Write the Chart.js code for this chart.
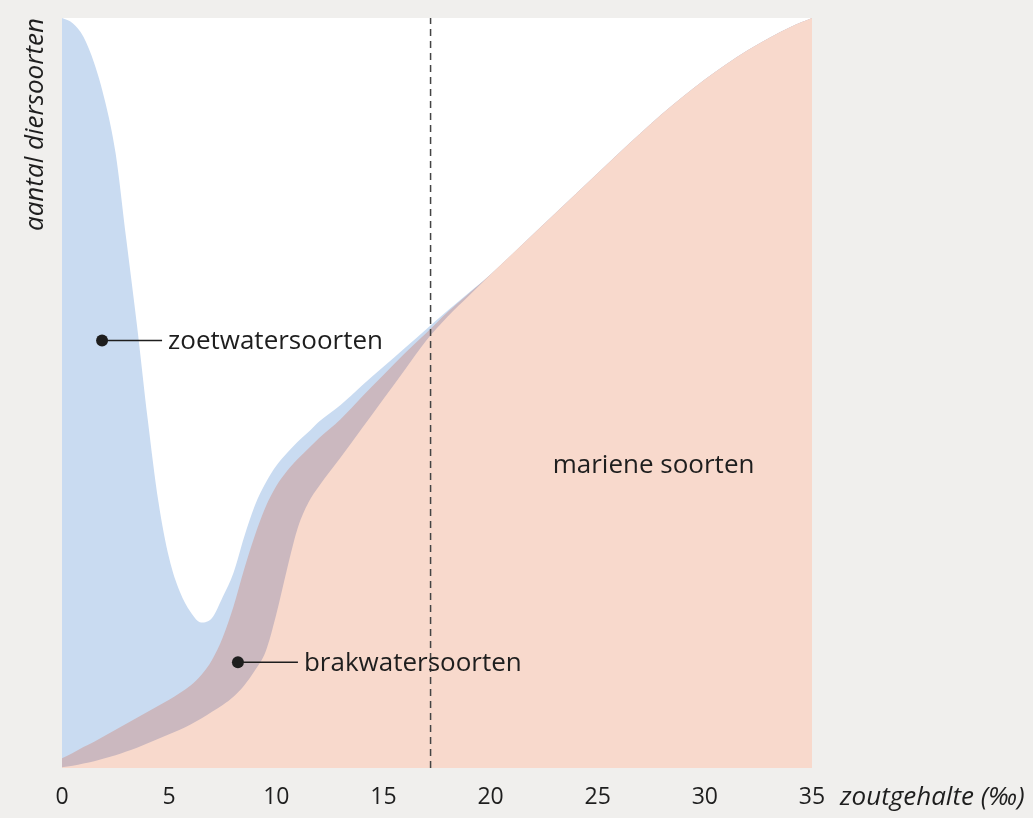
<!DOCTYPE html>
<html>
<head>
<meta charset="utf-8">
<script src="https://cdn.jsdelivr.net/npm/chart.js@4/dist/chart.umd.min.js"></script>
<style>
  html, body { margin:0; padding:0; background:#f0efed; }
  canvas { display:block; }
</style>
</head>
<body>
<canvas id="chart" width="1033" height="818"></canvas>
<script>
// zoutgehalte (promille) en aantal diersoorten (relatief, 0-100)
const salinity = [0,0.5,1,1.5,2,2.5,3,3.5,4,4.5,5,5.5,6,6.5,7,7.5,8,8.5,9,9.5,10,10.5,11,11.5,12,13,14,15,16,17,18,19,20,22,24,26,28,30,32,34,35];

const freshwater = [100,99.3,97.5,94,89,82,70.5,59,46.5,35.5,28,23.5,20.8,19.4,20,22.8,26,30.8,35,38,40.3,42,43.5,44.8,46.2,48.4,51,53.5,56,58.5,61,63.4,65.8,71.2,76.6,82,87.2,91.8,95.7,98.8,100];
const brackish   = [1.3,2,2.8,3.5,4.3,5.1,5.9,6.7,7.5,8.3,9.1,10,11,12.4,14.4,17.4,21.5,26.5,31,34.8,37.6,39.6,41.2,42.6,44,46.5,49.5,52.4,55.3,58,60.8,63.3,65.8,71.2,76.6,82,87.2,91.8,95.7,98.8,100];
const marine     = [0.1,0.3,0.6,0.9,1.3,1.7,2.2,2.7,3.3,3.9,4.5,5.1,5.8,6.6,7.5,8.4,9.5,11,13,15.5,20.5,26.5,32,35.4,37.6,41.4,45.3,49.2,53.1,57,60.2,63,65.8,71.2,76.6,82,87.2,91.8,95.7,98.8,100];

const xTicks = [0,5,10,15,20,25,30,35];
const boundary = 17.2; // gestippelde lijn

// labels: tekst op (x, y) in asseneenheden; dot=true -> met stip en lijntje
const labels = [
  {text:'zoetwatersoorten', x:1.87, y:57, dot:true},
  {text:'brakwatersoorten', x:8.21, y:14.1, dot:true},
  {text:'mariene soorten', x:22.9, y:40.3, dot:false}
];

const FONT = '"Open Sans", sans-serif';
const pts = arr => salinity.map((s,i)=>({x:s, y:arr[i]}));

const bgPlugin = {
  id:'bg',
  beforeDraw(chart){
    const {ctx, chartArea:a} = chart;
    ctx.save();
    ctx.fillStyle = '#ffffff';
    ctx.fillRect(a.left, a.top, a.right-a.left, a.bottom-a.top);
    ctx.restore();
  }
};

const textPlugin = {
  id:'texts',
  afterDraw(chart){
    const {ctx, chartArea:a, scales} = chart;
    const xs = scales.x, ys = scales.y;
    ctx.save();
    ctx.fillStyle = '#1e1e1e';
    ctx.strokeStyle = '#1e1e1e';
    ctx.textBaseline = 'middle';
    labels.forEach(l=>{
      const px = xs.getPixelForValue(l.x), py = ys.getPixelForValue(l.y);
      ctx.font = '26px ' + FONT;
      if(l.dot){
        ctx.beginPath(); ctx.arc(px, py, 6, 0, Math.PI*2); ctx.fill();
        ctx.lineWidth = 1.5;
        ctx.beginPath(); ctx.moveTo(px, py); ctx.lineTo(px+60, py); ctx.stroke();
        ctx.fillText(l.text, px+66, py+1);
      } else {
        ctx.fillText(l.text, px, py);
      }
    });
    // as-titels
    ctx.font = 'italic 26px ' + FONT;
    ctx.textAlign = 'left';
    ctx.fillText('zoutgehalte (‰)', a.right+28, a.bottom+30);
    ctx.translate(36, a.top);
    ctx.rotate(-Math.PI/2);
    ctx.textAlign = 'right';
    ctx.fillText('aantal diersoorten', 0, 0);
    ctx.restore();
  }
};

new Chart(document.getElementById('chart'), {
  type:'line',
  data:{
    datasets:[
      {label:'grens', data:[{x:boundary,y:0},{x:boundary,y:100}], borderColor:'#444', borderWidth:1.5, borderDash:[7,5], pointRadius:0, fill:false, order:0},
      {label:'mariene soorten', data:pts(marine), backgroundColor:'#f8d9cc', borderWidth:0, pointRadius:0, fill:'origin', cubicInterpolationMode:'monotone', order:1},
      {label:'brakwatersoorten', data:pts(brackish), backgroundColor:'#cbb8bf', borderWidth:0, pointRadius:0, fill:'origin', cubicInterpolationMode:'monotone', order:2},
      {label:'zoetwatersoorten', data:pts(freshwater), backgroundColor:'#c9dbf1', borderWidth:0, pointRadius:0, fill:'origin', cubicInterpolationMode:'monotone', order:3}
    ]
  },
  options:{
    responsive:false,
    animation:false,
    devicePixelRatio:1,
    layout:{padding:{left:62, right:221, top:18, bottom:0}},
    plugins:{legend:{display:false}, tooltip:{enabled:false}},
    scales:{
      x:{
        type:'linear', min:0, max:35,
        afterFit: s => { s.height = 50; },
        afterBuildTicks: s => { s.ticks = xTicks.map(v=>({value:v})); },
        grid:{display:false, drawTicks:false},
        border:{display:false},
        ticks:{color:'#1e1e1e', font:{family:FONT, size:23}, padding:16, maxRotation:0}
      },
      y:{type:'linear', min:0, max:100, display:false}
    }
  },
  plugins:[bgPlugin, textPlugin]
});
</script>
</body>
</html>
